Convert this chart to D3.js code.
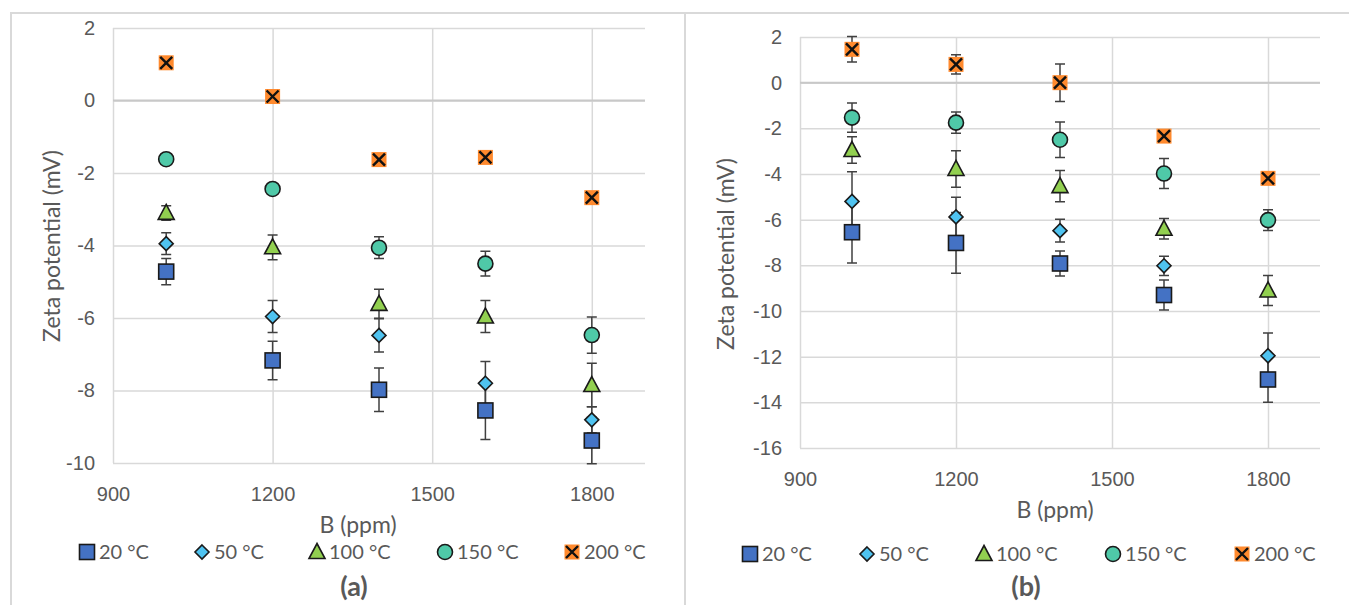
<!DOCTYPE html>
<html>
<head>
<meta charset="utf-8">
<script src="https://d3js.org/d3.v7.min.js"></script>
<style>
  body { margin: 0; background: #fff; }
  svg { font-family: Lato, "Open Sans", sans-serif; }
  .grid line { stroke: #d9d9d9; stroke-width: 1.5px; }
  .grid path { display: none; }
  .tick text { fill: #595959; font-size: 20px; }
  .ttl { fill: #595959; font-size: 23px; }
  .leg { fill: #595959; font-size: 20px; }
  .err { stroke: #404040; stroke-width: 1.5px; fill: none; }
  .mk { stroke: #1a1a1a; stroke-width: 1.6px; }
</style>
</head>
<body>
<script>
// boron content and series labels
const boron = [1000, 1200, 1400, 1600, 1800];
const temps = ["20 °C", "50 °C", "100 °C", "150 °C", "200 °C"];
const xTicks = [900, 1200, 1500, 1800];

// panel (a) zeta potential (mV) and error
const a20 = [-4.72, -7.17, -7.98, -8.55, -9.38];
const a50 = [-3.95, -5.96, -6.48, -7.8, -8.81];
const a100 = [-3.1, -4.05, -5.61, -5.96, -7.85];
const a150 = [-1.62, -2.44, -4.06, -4.5, -6.47];
const a200 = [1.04, 0.11, -1.63, -1.57, -2.68];
const ea20 = [0.36, 0.53, 0.6, 0.8, 0.64];
const ea50 = [0.3, 0.44, 0.46, 0.6, 0.36];
const ea100 = [0.2, 0.34, 0.4, 0.44, 0.6];
const ea150 = [0.08, 0.12, 0.3, 0.34, 0.5];
const ea200 = [0.06, 0.06, 0.06, 0.06, 0.1];

// panel (b)
const b20 = [-6.55, -7.02, -7.92, -9.3, -13.0];
const b50 = [-5.2, -5.88, -6.48, -8.02, -11.96];
const b100 = [-2.95, -3.78, -4.53, -6.4, -9.1];
const b150 = [-1.53, -1.75, -2.5, -3.98, -6.02];
const b200 = [1.46, 0.8, 0.0, -2.34, -4.19];
const eb20 = [1.35, 1.33, 0.55, 0.66, 1.0];
const eb50 = [1.3, 0.86, 0.5, 0.42, 1.0];
const eb100 = [0.58, 0.8, 0.68, 0.45, 0.66];
const eb150 = [0.64, 0.47, 0.78, 0.66, 0.45];
const eb200 = [0.56, 0.42, 0.82, 0.08, 0.2];

const fills = ["#4472c4", "#4fc3f0", "#92d050", "#4fc9a8", "#ff8a2e"];

const W = 1349, H = 605;
const svg = d3.select("body").append("svg").attr("width", W).attr("height", H);

// panel frames
svg.append("path")
  .attr("d", "M11,605 V13 H1349 M685,13 V605")
  .attr("fill", "none").attr("stroke", "#d9d9d9").attr("stroke-width", 2);

function marker(g, i, x, y) {
  const s = 7.5;
  if (i === 0) {
    g.append("rect").attr("class", "mk").attr("x", x - s).attr("y", y - s)
      .attr("width", 2 * s).attr("height", 2 * s).attr("fill", fills[i]);
  } else if (i === 1) {
    const d = 7;
    g.append("path").attr("class", "mk").attr("fill", fills[i])
      .attr("d", `M${x},${y - d}L${x + d},${y}L${x},${y + d}L${x - d},${y}Z`);
  } else if (i === 2) {
    g.append("path").attr("class", "mk").attr("fill", fills[i])
      .attr("d", `M${x},${y - 8.5}L${x + 8},${y + 6.5}L${x - 8},${y + 6.5}Z`);
  } else if (i === 3) {
    g.append("circle").attr("class", "mk").attr("cx", x).attr("cy", y).attr("r", 7.5)
      .attr("fill", fills[i]);
  } else {
    const c = 7.5;
    g.append("rect").attr("x", x - c).attr("y", y - c).attr("width", 2 * c).attr("height", 2 * c)
      .attr("fill", fills[i]);
    g.append("path").attr("stroke", "#111").attr("stroke-width", 2.4)
      .attr("d", `M${x - 6},${y - 6}L${x + 6},${y + 6}M${x + 6},${y - 6}L${x - 6},${y + 6}`);
  }
}

function panel(o) {
  const x = d3.scaleLinear().domain([900, 1900]).range([o.x0, o.x1]);
  const y = d3.scaleLinear().domain(o.yDom).range([o.y1, o.y0]);
  const g = svg.append("g");

  g.append("g").attr("class", "grid")
    .attr("transform", `translate(0,${o.y1})`)
    .call(d3.axisBottom(x).tickValues(xTicks).tickSize(-(o.y1 - o.y0)).tickPadding(o.xPad)
      .tickFormat(d => String(d)));
  g.append("g").attr("class", "grid")
    .attr("transform", `translate(${o.x0},0)`)
    .call(d3.axisLeft(y).tickValues(d3.range(o.yDom[0], o.yDom[1] + 1, 2))
      .tickSize(-(o.x1 - o.x0)).tickPadding(18).tickFormat(d => String(d)));
  // zero line slightly darker
  g.append("line").attr("x1", o.x0).attr("x2", o.x1).attr("y1", y(0)).attr("y2", y(0))
    .attr("stroke", "#c8c8c8").attr("stroke-width", 2);

  // error bars
  o.vals.forEach((vals, i) => {
    vals.forEach((v, j) => {
      const cx = x(boron[j]), e = o.errs[i][j];
      const t = y(v + e), b = y(v - e);
      g.append("path").attr("class", "err")
        .attr("d", `M${cx},${t}V${b}M${cx - 5},${t}H${cx + 5}M${cx - 5},${b}H${cx + 5}`);
    });
  });
  // markers
  o.vals.forEach((vals, i) => {
    vals.forEach((v, j) => marker(g, i, x(boron[j]), y(v)));
  });

  // axis titles
  g.append("text").attr("class", "ttl").attr("text-anchor", "middle")
    .attr("x", o.xt[0]).attr("y", o.xt[1]).text("B (ppm)");
  g.append("text").attr("class", "ttl").attr("text-anchor", "middle")
    .attr("transform", `translate(${o.yt[0]},${o.yt[1]}) rotate(-90)`)
    .attr("dy", "0.35em").text("Zeta potential (mV)");

  // legend
  temps.forEach((t, i) => {
    marker(g, i, o.leg[i], o.legY);
    g.append("text").attr("class", "leg").attr("x", o.leg[i] + 12).attr("y", o.legY)
      .attr("dy", "0.36em").text(t);
  });

  g.append("text").attr("text-anchor", "middle").attr("x", o.lab[0]).attr("y", o.lab[1])
    .attr("fill", "#595959").attr("font-size", 27).attr("font-weight", "bold").text(o.name);
}

panel({
  x0: 113, x1: 645, y0: 28, y1: 463, yDom: [-10, 2], xPad: 24,
  vals: [a20, a50, a100, a150, a200], errs: [ea20, ea50, ea100, ea150, ea200],
  xt: [358, 533], yt: [52, 246],
  leg: [87, 202, 317, 445, 572], legY: 552,
  lab: [354, 596], name: "(a)"
});
panel({
  x0: 800, x1: 1320, y0: 37, y1: 448, yDom: [-16, 2], xPad: 24,
  vals: [b20, b50, b100, b150, b200], errs: [eb20, eb50, eb100, eb150, eb200],
  xt: [1055, 518], yt: [726, 254],
  leg: [750, 867, 984, 1113, 1242], legY: 554,
  lab: [1026, 596], name: "(b)"
});
</script>
</body>
</html>
